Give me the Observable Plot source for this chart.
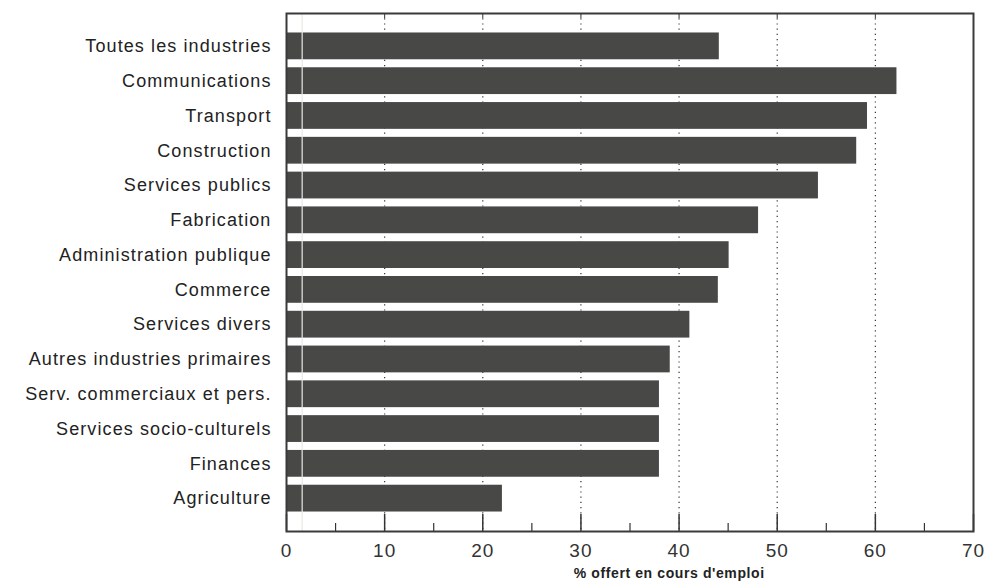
<!DOCTYPE html>
<html>
<head>
<meta charset="utf-8">
<script src="https://cdn.jsdelivr.net/npm/d3@7"></script>
<script src="https://cdn.jsdelivr.net/npm/@observablehq/plot@0.6"></script>
<style>
  html, body { margin: 0; padding: 0; background: #fff; }
  #chart { width: 986px; height: 581px; }
  #chart svg g[aria-label="y-axis tick label"] text { letter-spacing: 1.1px; }
  #chart svg g[aria-label="x-axis tick label"] text { letter-spacing: 1px; }
  #chart svg g[aria-label="text"] text { letter-spacing: 0.6px; }
</style>
</head>
<body>
<div id="chart"></div>
<script>
const industries = [
  "Toutes les industries",
  "Communications",
  "Transport",
  "Construction",
  "Services publics",
  "Fabrication",
  "Administration publique",
  "Commerce",
  "Services divers",
  "Autres industries primaires",
  "Serv. commerciaux et pers.",
  "Services socio-culturels",
  "Finances",
  "Agriculture"
];
const values = [44.1, 62.2, 59.2, 58.1, 54.2, 48.1, 45.1, 44.0, 41.1, 39.1, 38.0, 38.0, 38.0, 22.0];
const majorTicks = [0, 10, 20, 30, 40, 50, 60, 70];
const minorTicks = [5, 15, 25, 35, 45, 55, 65];
const gridTicks = [10, 20, 30, 40, 50, 60];
const xLabel = "% offert en cours d'emploi";

const data = industries.map((name, i) => ({name, value: values[i]}));

const chart = Plot.plot({
  width: 986,
  height: 581,
  marginLeft: 286,
  marginRight: 13,
  marginTop: 13,
  marginBottom: 50,
  style: {fontFamily: "'Liberation Sans', Arial, sans-serif", background: "#fff"},
  x: {domain: [0, 70]},
  y: {domain: industries, paddingInner: 0.23, paddingOuter: 0.56, round: false},
  marks: [
    Plot.ruleX(gridTicks, {stroke: "#333", strokeWidth: 1.2, strokeDasharray: "1.2,4"}),
    Plot.barX(data, {x: "value", y: "name", fill: "#484846"}),
    Plot.ruleX([1.6], {stroke: "#e8e8e4", strokeWidth: 1.5, strokeOpacity: 0.8}),
    Plot.axisY({tickSize: 0, tickPadding: 15, fontSize: 18, color: "#222", label: null}),
    Plot.axisX({ticks: majorTicks, tickSize: -17, tickPadding: 29, fontSize: 19, color: "#333", stroke: "#333", strokeWidth: 1.5, label: null}),
    Plot.axisX({ticks: minorTicks, tickSize: -8, tickFormat: () => "", stroke: "#333", strokeWidth: 1.2, label: null}),
    Plot.axisX({anchor: "top", ticks: gridTicks, tickSize: -4, tickFormat: () => "", stroke: "#333", label: null}),
    Plot.frame({stroke: "#3a3a3a", strokeWidth: 2}),
    Plot.text([xLabel], {x: 39.0, frameAnchor: "bottom", dy: 42, fontSize: 14, fontWeight: "bold", fill: "#222", lineAnchor: "middle"})
  ]
});
document.getElementById("chart").appendChild(chart);
</script>
</body>
</html>
